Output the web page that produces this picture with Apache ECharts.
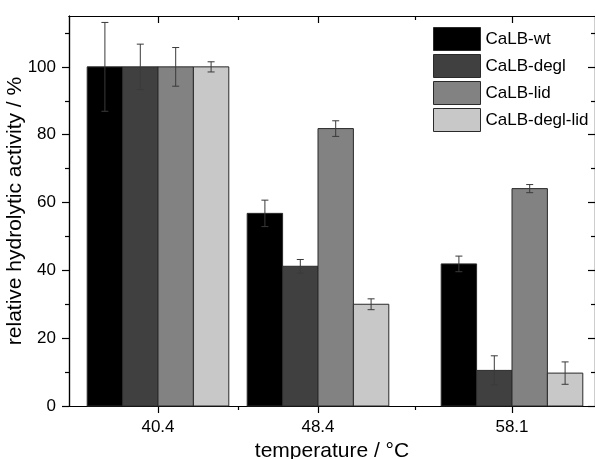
<!DOCTYPE html>
<html>
<head>
<meta charset="utf-8">
<script src="https://cdn.jsdelivr.net/npm/echarts@6/dist/echarts.min.js"></script>
<style>
  html, body { margin: 0; padding: 0; background: #fff; }
  #main { width: 595px; height: 459px; }
</style>
</head>
<body>
<div id="main"></div>
<script>
// temperatures (x positions of the groups)
var temps = [40.4, 48.4, 58.1];
var minorTemps = [44.4, 53.25];
var names = ['CaLB-wt', 'CaLB-degl', 'CaLB-lid', 'CaLB-degl-lid'];
var colors = ['#000000', '#404040', '#828282', '#c8c8c8'];

// relative activity, %
var wt = [100, 56.8, 41.9];
var degl = [100, 41.2, 10.5];
var lid = [100, 81.8, 64.1];
var deglLid = [100, 30.0, 9.7];
// error (+/-)
var wtErr = [13.1, 3.9, 2.3];
var deglErr = [6.7, 2.0, 4.3];
var lidErr = [5.7, 2.3, 1.2];
var deglLidErr = [1.5, 1.6, 3.3];

var yMajor = [0, 20, 40, 60, 80, 100];
var yMinor = [10, 30, 50, 70, 90, 110];

var values = [wt, degl, lid, deglLid];
var errors = [wtErr, deglErr, lidErr, deglLidErr];
var barW = 1.77; // bar width in °C units

var font = 'Liberation Sans, Arial, sans-serif';

function makeSeries(i) {
    var data = temps.map(function (t, k) { return [t, values[i][k], errors[i][k]]; });
    return {
        type: 'custom',
        name: names[i],
        xAxisIndex: 0,
        yAxisIndex: 0,
        itemStyle: { color: colors[i] },
        encode: { x: 0, y: 1 },
        data: data,
        renderItem: function (params, api) {
            var t = api.value(0), v = api.value(1), e = api.value(2);
            var off = (i - 1.5) * barW;
            var p0 = api.coord([t + off - barW / 2, v]);
            var p1 = api.coord([t + off + barW / 2, 0]);
            var c = api.coord([t + off, v]);
            var top = api.coord([t + off, v + e]);
            var bot = api.coord([t + off, v - e]);
            var cap = 3.5;
            var ls = { stroke: '#3a3a3a', lineWidth: 1 };
            return {
                type: 'group',
                children: [
                    {
                        type: 'rect',
                        shape: { x: p0[0], y: p0[1], width: p1[0] - p0[0], height: p1[1] - p0[1] },
                        style: { fill: colors[i], stroke: '#2a2a2a', lineWidth: 1 }
                    },
                    { type: 'line', shape: { x1: c[0], y1: top[1], x2: c[0], y2: bot[1] }, style: ls },
                    { type: 'line', shape: { x1: c[0] - cap, y1: top[1], x2: c[0] + cap, y2: top[1] }, style: ls },
                    { type: 'line', shape: { x1: c[0] - cap, y1: bot[1], x2: c[0] + cap, y2: bot[1] }, style: ls }
                ]
            };
        }
    };
}

function xAx(pos, ticks, len, inside, label, name) {
    return {
        type: 'value', position: pos, min: 35.95, max: 62.25,
        name: name || '',
        nameLocation: 'middle', nameGap: 35, nameMoveOverlap: false,
        nameTextStyle: { fontFamily: font, fontSize: 21, color: '#000' },
        axisLine: { show: true, onZero: false, lineStyle: { color: '#000', width: 1.2 } },
        axisTick: { show: true, customValues: ticks, length: len, inside: inside, lineStyle: { color: '#000', width: 1.2 } },
        axisLabel: label ? { show: true, customValues: ticks, margin: 13, fontFamily: font, fontSize: 17, color: '#000' } : { show: false },
        splitLine: { show: false }
    };
}

function yAx(pos, ticks, len, inside, label, name) {
    return {
        type: 'value', position: pos, min: 0, max: 115,
        name: name || '',
        nameLocation: 'middle', nameGap: 43, nameMoveOverlap: false,
        nameTextStyle: { fontFamily: font, fontSize: 21, color: '#000' },
        axisLine: { show: true, lineStyle: { color: '#000', width: 1.2 } },
        axisTick: { show: true, customValues: ticks, length: len, inside: inside, lineStyle: { color: '#000', width: 1.2 } },
        axisLabel: label ? { show: true, customValues: ticks, margin: 13, fontFamily: font, fontSize: 17, color: '#000' } : { show: false },
        splitLine: { show: false }
    };
}

var chart = echarts.init(document.getElementById('main'), null, { renderer: 'canvas' });
chart.setOption({
    animation: false,
    backgroundColor: '#fff',
    grid: { left: 69, right: 0, top: 16, bottom: 53, containLabel: false, outerBoundsMode: 'none' },
    legend: {
        orient: 'vertical',
        left: 428, top: 22,
        itemWidth: 47, itemHeight: 23, itemGap: 3,
        icon: 'rect',
        textStyle: { fontFamily: font, fontSize: 17, color: '#000' },
        data: names.map(function (n, i) {
            return { name: n, itemStyle: { color: colors[i], borderColor: '#2a2a2a', borderWidth: 1 } };
        })
    },
    xAxis: [
        xAx('bottom', temps, 7, false, true, 'temperature / °C'),
        xAx('bottom', minorTemps, 4, false, false),
        xAx('top', temps, 7, true, false),
        xAx('top', minorTemps, 4, true, false)
    ],
    yAxis: [
        yAx('left', yMajor, 7, false, true, 'relative hydrolytic activity / %'),
        yAx('left', yMinor, 4, false, false),
        yAx('right', yMajor, 7, true, false),
        yAx('right', yMinor, 4, true, false)
    ],
    series: [makeSeries(0), makeSeries(1), makeSeries(2), makeSeries(3)]
});
</script>
</body>
</html>
